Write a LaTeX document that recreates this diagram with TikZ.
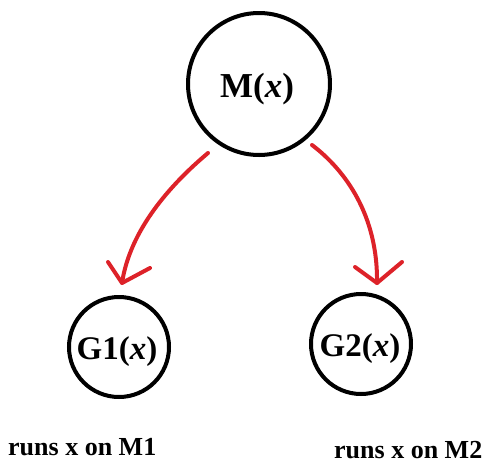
\documentclass[tikz,border=0pt]{standalone}
\usepackage{fontspec}
\setmainfont{Liberation Serif}
\definecolor{penred}{HTML}{DD2229}
\begin{document}
\begin{tikzpicture}[x=1pt,y=-1pt,
  ring/.style={circle,draw=black,line width=4pt,inner sep=0pt},
  redline/.style={draw=penred,line width=4pt,line cap=round,line join=round},
  lbl/.style={font=\bfseries\fontsize{26}{28}\selectfont,inner sep=0pt,anchor=base west}]
\useasboundingbox (0,0) rectangle (492,464);
\node[ring,minimum size=142pt] (M) at (259,84) {};
\node[font=\bfseries\fontsize{35}{37}\selectfont] (Mt) at (257,89) {M(\textit{x})};
\node[ring,minimum size=100pt] (G1) at (119,347) {};
\node[font=\bfseries\fontsize{33}{35}\selectfont] (G1t) at (117,352) {G1(\textit{x})};
\node[ring,minimum size=100pt] (G2) at (361,344) {};
\node[font=\bfseries\fontsize{33}{35}\selectfont] (G2t) at (360,349) {G2(\textit{x})};
\node[lbl] (L1) at (8,455) {runs x on M1};
\node[lbl] (L2) at (334,458) {runs x on M2};
\coordinate (s1) at (208,153);
\coordinate (t1) at (122,283);
\coordinate (a1) at (108,262);
\coordinate (b1) at (150,268);
\coordinate (s2) at (312,145);
\coordinate (t2) at (377,283);
\coordinate (a2) at (355,267);
\coordinate (b2) at (402,262);
\draw[redline] (s1) .. controls (170,185) and (130,230) .. (t1);
\draw[redline] (a1) -- (t1) -- (b1);
\draw[redline] (s2) .. controls (345,170) and (378,215) .. (t2);
\draw[redline] (a2) -- (t2) -- (b2);
\end{tikzpicture}
\end{document}
